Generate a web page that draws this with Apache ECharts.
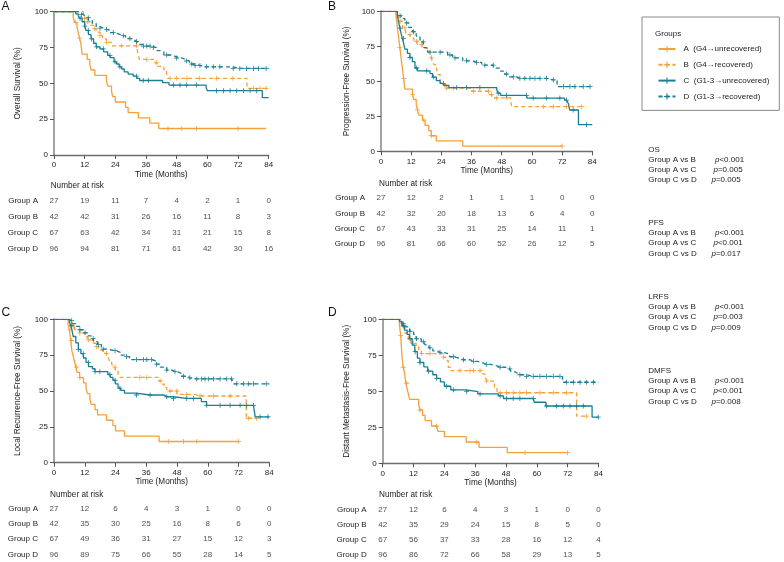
<!DOCTYPE html>
<html><head><meta charset="utf-8">
<script src="https://cdn.jsdelivr.net/npm/echarts@6/dist/echarts.min.js"></script>
<style>html,body{margin:0;padding:0;background:#fff}#c{width:784px;height:562px}</style>
</head><body><div id="c"></div>
<script>
// ---------- DATA ----------
const timePoints = [0, 12, 24, 36, 48, 60, 72, 84];
const groupLabels = ['Group A', 'Group B', 'Group C', 'Group D'];
const legendNames = ['A  (G4\u2192unrecovered)', 'B  (G4\u2192recovered)', 'C  (G1-3\u2192unrecovered)', 'D  (G1-3\u2192recovered)'];
const yNames = ['Overall Survival (%)', 'Progression-Free Survival (%)', 'Local Recurrence-Free Survival (%)', 'Distant Metastasis-Free Survival (%)'];
const panelLetters = ['A', 'B', 'C', 'D'];

// Kaplan-Meier steps [time, survival %] and censor times
const osA = [[0,100],[7.5,96.3],[8,92.6],[9,88.9],[9.5,85.2],[10,81.5],[10.5,77.8],[11,70.4],[13,66.7],[14,63],[14.5,59.3],[16,55.6],[20.5,51.9],[21,48.1],[22.5,44.4],[23,40.7],[24,37],[28,33.3],[29,29.6],[33,25.9],[37.5,22.2],[41,18.5],[83,18.5]];
const osB = [[0,100],[11.5,97.6],[12,95.2],[13,92.9],[14.5,90.5],[15.5,88.1],[16.5,85.7],[18,83.3],[19,81],[20.5,78.6],[22.5,76.2],[32.5,73.8],[33,69],[33.5,66.7],[39.5,64.3],[40.5,61.9],[43,59.5],[44,57.1],[44.5,53.5],[75.5,46.5],[84,46.5]];
const osC = [[0,100],[8.5,98.5],[9.5,97],[10,95.5],[11,93],[12,90],[12.5,87],[13.5,84],[14.5,81],[15.5,78],[16.5,75.5],[18,74],[19.5,72],[21,69.5],[22,68],[23.5,65],[24.5,63.5],[25.5,61.5],[26.5,60],[27.5,58],[29,56.5],[31,55],[32.5,53.5],[33.5,52],[42.5,50.5],[45,48.8],[59.5,47.2],[60,44.9],[81.5,40],[84,40]];
const osD = [[0,100],[9.5,99],[10.5,97.9],[11.5,96.9],[12.5,95.8],[13.5,93.8],[15,91.7],[16.5,89.6],[18,88.5],[19.5,87.5],[21.5,85.4],[23.5,84.4],[25.5,83.3],[28,81.3],[30,80.2],[31.5,79.2],[33,77.1],[35,76],[38.5,75],[40,72.9],[41.5,71.9],[43,69.8],[46,68.8],[47.5,67.7],[50,66.7],[51.5,65.6],[53,63.5],[55,62.5],[57.5,61.5],[70,60.4],[84,60.4]];
const osAc = [8.5, 10, 44.6, 50, 55.8, 72];
const osBc = [12, 13, 16, 18, 20.6, 26.5, 32.3, 36.3, 40.2, 45.4, 48, 52, 57, 63.6, 70, 78, 80.6, 83];
const osCc = [10.2, 12.1, 13.4, 14.7, 16.7, 19.3, 21.9, 23.9, 25.8, 32.3, 34.9, 36.9, 46.7, 49.3, 51.9, 55.8, 63.6, 66.3, 68.9, 71.5, 74.1, 76.7, 79.3];
const osDc = [10.8, 13.4, 18, 20.6, 23.2, 27.1, 29.7, 32.3, 35, 36.3, 37.6, 38.9, 44.1, 48, 51.9, 53.9, 55.2, 57.1, 59.7, 62.3, 64.9, 70.1, 72.7, 75.3, 78, 80, 83];

const pfsA = [[0,100],[6,96.3],[6.5,88.9],[7,81.5],[7.5,74.1],[8,66.7],[8.5,59.3],[9,51.9],[9.5,44.4],[12.5,40.7],[13,37],[14,33.3],[14.5,29.6],[15,25.9],[16.5,22.2],[17.5,18.5],[19,14.8],[20,11.1],[22,7.4],[32.5,3.7],[72,3.7]];
const pfsB = [[0,100],[6,97.6],[7,92.9],[8.5,88.1],[10,83.3],[12,81],[13,78.6],[14.5,76.2],[16.5,73.8],[18.5,71.4],[19.5,69],[20,66.7],[20.5,64.3],[21,61.9],[22,59.5],[22.5,54.8],[23.5,50],[24,47.6],[26,45.2],[36,42.9],[43,40.5],[44.5,38.1],[51.5,35.7],[52,31.9],[80,31.9]];
const pfsC = [[0,100],[6.5,97],[7,92.5],[7.5,88],[8,84],[8.5,80.5],[9,77],[9.5,73],[10.5,70],[11.5,67],[12.5,64],[13.5,59.5],[14.5,57.5],[19.5,55.5],[20.5,53],[22,50.5],[23.5,48.5],[25,47],[27,45.5],[46,44],[46.5,41.5],[47.5,40],[58,38],[73,36.5],[74.5,34],[75,29.5],[78.5,19],[84,19]];
const pfsD = [[0,100],[6.5,98.9],[7,96.9],[8,94.8],[9.5,91.7],[11,88.5],[12.5,85.4],[14,82.3],[15.5,78.1],[17,74],[18.5,70.8],[26.5,68.8],[28.5,66.7],[32.5,64.6],[36.5,63.5],[40,61.5],[45,59.4],[47.5,57.3],[49,55.2],[50.5,53.1],[54,52.1],[66,51],[70,46.2],[84,46.2]];
const pfsAc = [7.5, 9, 12.5, 14.5, 17, 20, 72];
const pfsBc = [7.6, 9.5, 11.5, 14.2, 16.2, 20.1, 26.1, 28.7, 36.7, 42.7, 44, 46, 50, 64.5, 68.5, 73.8, 79.8];
const pfsCc = [7.6, 8.9, 11.5, 14.2, 18.2, 20.8, 24.8, 30.1, 34, 39.3, 46.6, 49.9, 57.9, 60.5, 65.8, 71.1, 73.8, 76.4, 81.7];
const pfsDc = [7.6, 10.2, 12.9, 16.8, 19.5, 23.5, 27.4, 29.4, 34, 38, 41.3, 44.6, 49.9, 52.6, 55.2, 57.2, 59.2, 61.2, 63.2, 65.8, 68.5, 72.5, 75.1, 77.1, 80.4, 83.1];

const lrA = [[0,100],[5.5,96.3],[6,92.6],[6.5,85.2],[7,77.8],[7.5,74.1],[8,70.4],[8.5,66.7],[9,63],[10,59.3],[11.5,55.6],[12.5,51.9],[13,48.1],[14,44.4],[14.5,40.7],[16,37],[17,33.3],[20.5,29.6],[23,25.9],[24,22.2],[27.5,18.5],[41,14.8],[72,14.8]];
const lrB = [[0,100],[6,97.6],[7,95.2],[8,92.9],[10,90.5],[12,88.1],[13,85.7],[15,83.3],[16.5,81],[17.5,78.6],[19,76.2],[21,73.8],[21.5,71.4],[22.5,69],[23,66.7],[24,64.3],[25,61.9],[25.5,59.5],[41,57.1],[42,54.8],[43,52.4],[44,50],[48,47.6],[55,46.5],[75,31],[79,31]];
const lrC = [[0,100],[6,98.5],[6.5,95.5],[7,92.5],[7.5,88],[8.5,83.5],[9.5,79],[10.5,76],[11.5,73],[12.5,70],[13.5,67],[15,65.5],[16,63.5],[21,61.5],[22,59.5],[23,57.5],[24,55],[25,52],[26,50.5],[27.5,48.5],[32,47.2],[43,46],[46.5,44.8],[57.5,42.6],[59.5,40],[78.5,32],[84,32]];
const lrD = [[0,100],[6,99],[7,97],[8.5,95],[10,92.7],[11.5,90.6],[13,88.5],[14.5,86.5],[15.5,84.4],[17,82.3],[18.5,79.2],[20.5,78.1],[24.5,77],[26,75],[27.5,74],[29.5,71.9],[38.5,70.8],[40,68.7],[41.5,66.6],[44,64.6],[46,63.5],[48,62.4],[49.5,60.3],[52,59.2],[53.5,58.4],[70,55],[84,55]];
const lrAc = [6.2, 6.9, 8.8, 10.1, 44.6, 50.5, 55.7, 71.9];
const lrBc = [7.5, 10.1, 13.4, 16.6, 20.5, 23.8, 33.5, 36.2, 41.4, 45.3, 47.9, 51.8, 57, 62.2, 68.7, 75.8, 79];
const lrCc = [6.9, 9.5, 11.4, 13.4, 16, 17.9, 21.8, 23.8, 25.7, 32.2, 37.5, 44, 46.6, 51.8, 54.4, 59.6, 64.8, 68.7, 72.6, 75.2, 77.8, 80.4, 83.5];
const lrDc = [6.9, 10.1, 12.1, 15.3, 17.3, 19.2, 23.8, 28.3, 32.2, 34.9, 36.2, 38.1, 40, 44, 47.2, 50.5, 53, 55.7, 57.6, 58.9, 60.2, 62.2, 64.8, 67.4, 69.3, 71.3, 73.9, 75.8, 77.8, 83];

const dmA = [[0,100],[6.5,96.3],[7,88.9],[7.5,74.1],[8,66.7],[8.5,63],[9,55.6],[9.5,51.9],[10,48.1],[10.5,44.4],[14,40.7],[14.5,37],[15.5,33.3],[16.5,29.6],[19,25.9],[21.5,22.2],[24,18.5],[32.5,14.8],[37.5,11.1],[48.5,7.4],[72,7.4]];
const dmB = [[0,100],[6.5,97.6],[7.5,95.2],[8.5,90.5],[10,85.7],[11,83.3],[13,81],[14,78.6],[15,76.2],[23.5,73.8],[24.5,71.4],[25.5,66.7],[26.5,64.3],[39,61.9],[40,59.5],[40.5,57.1],[43.5,52.4],[44.5,49],[75.5,32.7],[79.5,32.7]];
const dmC = [[0,100],[6.5,98.5],[7.5,95.5],[8.5,92.5],[9.5,89.5],[10.5,86.5],[11.5,82],[12.5,77.5],[13.5,73],[14.5,70],[16,67],[17.5,64],[19.5,61.5],[21,59],[22.5,56.5],[24,53.5],[26.5,51],[32.5,49.8],[37,48.2],[45,46.8],[47,45],[59,42.4],[63.5,39.8],[81.5,32],[84,32]];
const dmD = [[0,100],[6.5,99],[7.5,96.9],[9,94.8],[10.5,91.7],[12,89.6],[13,86.5],[15,84.4],[16.5,82.3],[18,80.2],[19.5,78.1],[21,77.1],[23.5,76],[26,74],[28,72.9],[30,71.9],[34,70.8],[37,69.8],[39,68.7],[42,67.7],[44.5,66.7],[48,65.6],[50,63.5],[51.5,62.5],[52.5,61.5],[56,60.4],[70,56.3],[84,56.3]];
const dmAc = [7, 8, 9.3, 14.5, 21, 36.6, 55.4, 72];
const dmBc = [8, 11.9, 15.2, 18.4, 23.6, 30.1, 34, 35.3, 37.9, 40.5, 45.7, 48.2, 50.8, 53.4, 56, 61.2, 66.4, 71.6, 79.4];
const dmCc = [8, 10.6, 12.6, 14.5, 17.8, 21, 24.9, 27.5, 32.7, 37.9, 45.7, 48.2, 50.8, 53.4, 58.6, 63.8, 67.7, 70.3, 72.9, 75.5, 78.1, 83.9];
const dmDc = [8, 10.6, 13.2, 15.8, 18.4, 22.3, 27.5, 31.4, 35.3, 40.5, 45.7, 49.5, 53.4, 56, 58.6, 61.2, 63.8, 66.4, 69, 71.6, 74.2, 76.8, 79.4, 82];

// Number at risk
const osRisk = [[27,19,11,7,4,2,1,0],[42,42,31,26,16,11,8,3],[67,63,42,34,31,21,15,8],[96,94,81,71,61,42,30,16]];
const pfsRisk = [[27,12,2,1,1,1,0,0],[42,32,20,18,13,6,4,0],[67,43,33,31,25,14,11,1],[96,81,66,60,52,26,12,5]];
const lrRisk = [[27,12,6,4,3,1,0,0],[42,35,30,25,16,8,6,0],[67,49,36,31,27,15,12,3],[96,89,75,66,55,28,14,5]];
const dmRisk = [[27,12,6,4,3,1,0,0],[42,35,29,24,15,8,5,0],[67,56,37,33,28,16,12,4],[96,86,72,66,58,29,13,5]];

// p-values
const pTitles = ['OS', 'PFS', 'LRFS', 'DMFS'];
const pComparisons = ['Group A vs B', 'Group A vs C', 'Group C vs D'];
const pValues = [['<0.001','=0.005','=0.005'], ['<0.001','<0.001','=0.017'], ['<0.001','=0.003','=0.009'], ['<0.001','<0.001','=0.008']];

// ---------- BUILD ----------
const curves = [[osA,osB,osC,osD],[pfsA,pfsB,pfsC,pfsD],[lrA,lrB,lrC,lrD],[dmA,dmB,dmC,dmD]];
const censors = [[osAc,osBc,osCc,osDc],[pfsAc,pfsBc,pfsCc,pfsDc],[lrAc,lrBc,lrCc,lrDc],[dmAc,dmBc,dmCc,dmDc]];
const risks = [osRisk, pfsRisk, lrRisk, dmRisk];

const FONT = 'Liberation Sans, Arial, Helvetica, DejaVu Sans, sans-serif';
const TXT = '#222';
const ORANGE = '#F5A03A', TEAL = '#1A7F94';
const colors = [ORANGE, ORANGE, TEAL, TEAL];
const PLUS = 'path://M4.2,0H5.8V4.2H10V5.8H5.8V10H4.2V5.8H0V4.2H4.2Z';

const layout = [
  {plot:{left:54, top:11.7, width:214.7, height:143.3}, table:{top:193, height:64}, letter:[1.5,1], risk:[50.7,186], nameGap:32},
  {plot:{left:381, top:11.3, width:211.3, height:140}, table:{top:190.3, height:61.7}, letter:[328,1], risk:[379,183.3], nameGap:30},
  {plot:{left:54, top:319.3, width:215.3, height:143.4}, table:{top:501.3, height:64}, letter:[1.5,306.5], risk:[50,494.3], nameGap:32},
  {plot:{left:382.7, top:319.3, width:215.8, height:144}, table:{top:501.8, height:63.5}, letter:[328,306.5], risk:[379,495], nameGap:32}
];

function buildKM(steps, cens) {
  const pts = steps.map(p => ({value: [p[0], p[1]], symbol: 'none', _o: 0}));
  cens.forEach(c => {
    let s = steps[0][1];
    steps.forEach(p => { if (p[0] <= c) s = p[1]; });
    pts.push({value: [c, s], _o: 1});
  });
  pts.sort((a, b) => (a.value[0] - b.value[0]) || (a._o - b._o));
  return pts.map(p => p.symbol ? {value: p.value, symbol: 'none'} : {value: p.value});
}

const grids = [], xAxes = [], yAxes = [], series = [], graphics = [];

layout.forEach((L, p) => {
  grids.push(Object.assign({}, L.plot));
  grids.push({left: L.plot.left, width: L.plot.width, top: L.table.top, height: L.table.height});
});

// plot axes (indices 0..3)
layout.forEach((L, p) => {
  xAxes.push({
    type: 'value', gridIndex: 2*p, min: 0, max: 84, interval: 12,
    name: 'Time (Months)', nameLocation: 'middle', nameGap: 15.5,
    nameTextStyle: {fontSize: 8.2, color: TXT, fontFamily: FONT},
    axisLine: {show: true, onZero: false, lineStyle: {color: '#6e6e6e', width: 1.4}},
    axisTick: {show: true, length: 4, lineStyle: {color: '#555', width: 1}},
    axisLabel: {fontSize: 8, color: TXT, fontFamily: FONT, margin: 6},
    splitLine: {show: false}
  });
  yAxes.push({
    type: 'value', gridIndex: 2*p, min: 0, max: 100, interval: 25,
    name: yNames[p], nameLocation: 'middle', nameRotate: 90, nameGap: L.nameGap,
    nameTextStyle: {fontSize: 8.2, color: TXT, fontFamily: FONT},
    axisLine: {show: true, onZero: false, lineStyle: {color: '#a3a3a3', width: 2}},
    axisTick: {show: true, length: 4, lineStyle: {color: '#555', width: 1}},
    axisLabel: {fontSize: 8, color: TXT, fontFamily: FONT, margin: 6},
    splitLine: {show: false}
  });
});
// table axes (indices 4..7)
layout.forEach((L, p) => {
  xAxes.push({type: 'value', gridIndex: 2*p+1, min: 0, max: 84, show: false});
  yAxes.push({
    type: 'category', gridIndex: 2*p+1, data: groupLabels, inverse: true,
    axisLine: {show: false}, axisTick: {show: false}, splitLine: {show: false},
    axisLabel: {fontSize: 8, color: TXT, fontFamily: FONT, margin: 16}
  });
});

layout.forEach((L, p) => {
  for (let g = 0; g < 4; g++) {
    series.push({
      type: 'line', name: legendNames[g], xAxisIndex: p, yAxisIndex: p, step: 'end',
      data: buildKM(curves[p][g], censors[p][g]),
      symbol: PLUS, symbolSize: 5, showSymbol: true, showAllSymbol: true,
      lineStyle: {color: colors[g], width: 1.3, type: (g % 2) ? [4, 3] : 'solid'},
      itemStyle: {color: colors[g], borderWidth: 0},
      emphasis: {disabled: true}, silent: true, z: 2 + g
    });
  }
  const tdata = [];
  risks[p].forEach((row, g) => row.forEach((n, i) => tdata.push([timePoints[i], groupLabels[g], n])));
  series.push({
    type: 'scatter', name: 'risk' + p, xAxisIndex: 4 + p, yAxisIndex: 4 + p,
    data: tdata, symbolSize: 1, itemStyle: {color: 'rgba(0,0,0,0)'}, silent: true,
    label: {show: true, position: 'inside', formatter: d => String(d.value[2]), fontSize: 8, color: TXT, fontFamily: FONT}
  });
  graphics.push({type: 'text', x: L.letter[0], y: L.letter[1], style: {text: panelLetters[p], fontSize: 12, fill: '#111', fontFamily: FONT, align: 'left', verticalAlign: 'top'}});
  graphics.push({type: 'text', x: L.risk[0], y: L.risk[1], style: {text: 'Number at risk', fontSize: 8.2, fill: TXT, fontFamily: FONT, align: 'left', verticalAlign: 'middle'}});
});

// legend title
graphics.push({type: 'text', x: 655, y: 33.3, style: {text: 'Groups', fontSize: 8, fill: TXT, fontFamily: FONT, align: 'left', verticalAlign: 'middle'}});

// p-value blocks
const pBlockY = [149.3, 222.7, 296.7, 370.7];
const pXoff = [715, 713.5, 711.5];
pTitles.forEach((t, b) => {
  const y0 = pBlockY[b];
  graphics.push({type: 'text', x: 648.3, y: y0, style: {text: t, fontSize: 8, fill: TXT, fontFamily: FONT, verticalAlign: 'middle'}});
  pComparisons.forEach((c, r) => {
    const y = y0 + 10.2 * (r + 1);
    graphics.push({type: 'text', x: 648.3, y: y, style: {text: c, fontSize: 8, fill: TXT, fontFamily: FONT, verticalAlign: 'middle'}});
    graphics.push({type: 'text', x: pXoff[r], y: y, style: {
      text: '{i|p}{n|' + pValues[b][r] + '}', verticalAlign: 'middle', fontSize: 8, fontFamily: FONT, fill: TXT,
      rich: {i: {fontStyle: 'italic', fontSize: 8, fontFamily: FONT, fill: TXT}, n: {fontSize: 8, fontFamily: FONT, fill: TXT}}
    }});
  });
});

const chart = echarts.init(document.getElementById('c'), null, {renderer: 'canvas'});
chart.setOption({
  animation: false,
  backgroundColor: '#fff',
  textStyle: {fontFamily: FONT},
  grid: grids,
  xAxis: xAxes,
  yAxis: yAxes,
  legend: {
    data: legendNames, orient: 'vertical', left: 642, top: 17,
    padding: [28, 10, 10, 15.5], itemWidth: 17, itemHeight: 8, itemGap: 7.8,
    borderColor: '#8a8a8a', borderWidth: 1, borderRadius: 0, selectedMode: false,
    textStyle: {fontSize: 8, color: TXT, fontFamily: FONT, padding: [0, 0, 0, 3]}
  },
  tooltip: {show: false},
  series: series,
  graphic: graphics
});
</script></body></html>
